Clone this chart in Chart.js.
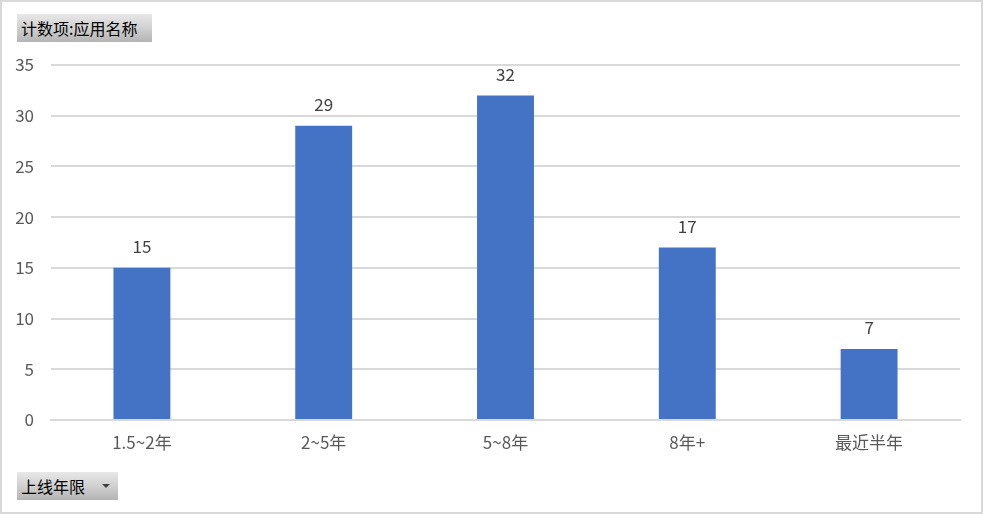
<!DOCTYPE html>
<html>
<head>
<meta charset="utf-8">
<script src="https://cdn.jsdelivr.net/npm/chart.js@4/dist/chart.umd.min.js"></script>
<style>
  html, body { margin: 0; padding: 0; background: #fff; }
  #frame {
    position: relative;
    width: 979px; height: 510px;
    border: 2px solid #d9d9d9;
    background: #fff;
  }
  #wrap { position: absolute; left: -2px; top: -2px; width: 983px; height: 514px; }
  .pivot-btn {
    position: absolute;
    height: 28px;
    line-height: 28px;
    padding-left: 4px;
    font-family: "Noto Sans CJK SC", sans-serif;
    font-size: 16px;
    color: #000;
    background: linear-gradient(to bottom, #e8e8e8 0%, #d0d0d0 50%, #b4b4b4 100%);
    box-sizing: border-box;
  }
  .arrow {
    position: absolute; right: 8px; top: 12px;
    width: 0; height: 0;
    border-left: 4px solid transparent;
    border-right: 4px solid transparent;
    border-top: 4px solid #404040;
  }
</style>
</head>
<body>
<div id="frame">
  <div id="wrap"><canvas id="chart" width="983" height="514"></canvas></div>
  <div class="pivot-btn" style="left:15px; top:12px; width:135px;">计数项:应用名称</div>
  <div class="pivot-btn" style="left:15px; top:470px; width:101px;">上线年限<span class="arrow"></span></div>
</div>
<script>
// 데이터
const categories = ['1.5~2年', '2~5年', '5~8年', '8年+', '最近半年'];
const appCounts = [15, 29, 32, 17, 7];
const yTicks = [0, 5, 10, 15, 20, 25, 30, 35];

const labelFont = '"Noto Sans CJK SC", "Noto Sans", sans-serif';

// 막대 위에 값 표시
const valueLabels = {
  id: 'valueLabels',
  afterDatasetsDraw(chart) {
    const ctx = chart.ctx;
    const meta = chart.getDatasetMeta(0);
    ctx.save();
    ctx.fillStyle = '#404040';
    ctx.font = '17px ' + labelFont;
    ctx.textAlign = 'center';
    ctx.textBaseline = 'middle';
    meta.data.forEach((bar, i) => {
      ctx.fillText(String(appCounts[i]), bar.x, bar.y - 21);
    });
    ctx.restore();
  }
};

new Chart(document.getElementById('chart'), {
  type: 'bar',
  data: {
    labels: categories,
    datasets: [{
      label: '计数项:应用名称',
      data: appCounts,
      backgroundColor: '#4472c4',
      barPercentage: 1,
      categoryPercentage: 0.313
    }]
  },
  options: {
    responsive: false,
    animation: false,
    layout: { padding: { left: 0, right: 23, top: 65, bottom: 0 } },
    plugins: {
      legend: { display: false },
      tooltip: { enabled: false }
    },
    scales: {
      y: {
        min: 0,
        max: 35,
        afterBuildTicks(scale) {
          scale.ticks = yTicks.map(v => ({ value: v }));
        },
        afterFit(scale) { scale.width = 51; },
        border: { display: false },
        grid: { color: '#d9d9d9', lineWidth: 2, drawTicks: false },
        ticks: {
          padding: 17,
          color: '#595959',
          font: { family: labelFont, size: 17 }
        }
      },
      x: {
        afterFit(scale) { scale.height = 94; },
        border: { display: true, color: '#d9d9d9', width: 2 },
        grid: { display: false },
        ticks: {
          padding: 4,
          color: '#595959',
          font: { family: labelFont, size: 17 }
        }
      }
    }
  },
  plugins: [valueLabels]
});
</script>
</body>
</html>
